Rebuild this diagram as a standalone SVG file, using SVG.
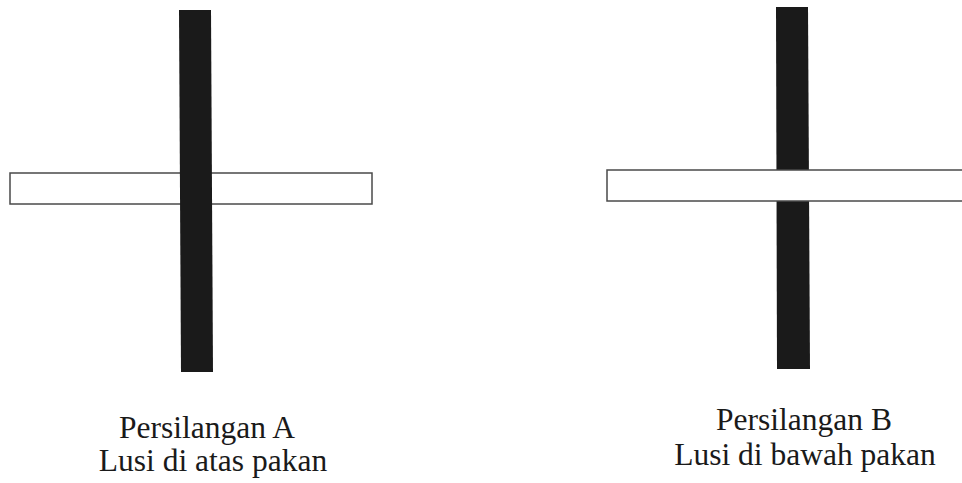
<svg xmlns="http://www.w3.org/2000/svg" width="962" height="483" viewBox="0 0 962 483">
<style>
.weft{fill:#ffffff;stroke:#4a4a4a;stroke-width:1.5}
.warp{fill:#1a1a1a;stroke:none}
.lbl{font-family:"Liberation Serif","Times New Roman",serif;font-size:31.5px;fill:#1a1a1a;text-anchor:middle}
</style>
<rect width="962" height="483" fill="#ffffff"/>
<g id="persilangan-a">
<rect class="weft" x="10" y="173" width="362" height="31"/>
<polygon class="warp" points="179,10 211,10 213,372 181,372"/>
<text class="lbl" x="207" y="438">Persilangan A</text>
<text class="lbl" x="213" y="471">Lusi di atas pakan</text>
</g>
<g id="persilangan-b">
<polygon class="warp" points="776,7 808,7 810,369 777,369"/>
<rect class="weft" x="607" y="170" width="370" height="31"/>
<text class="lbl" x="804" y="430">Persilangan B</text>
<text class="lbl" x="805" y="465">Lusi di bawah pakan</text>
</g>
<g id="connectors"/>
</svg>
